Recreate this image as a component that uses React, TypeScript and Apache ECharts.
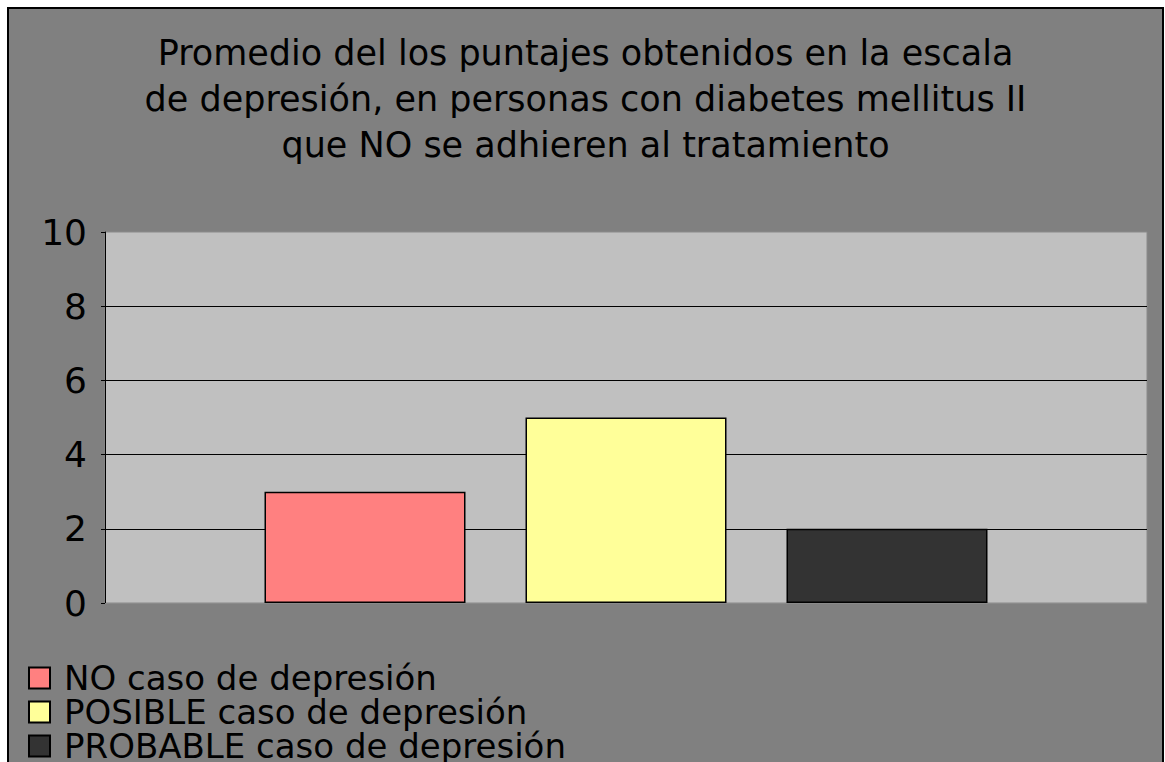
import React, { useEffect, useRef } from "react";
import * as echarts from "echarts";

const titleLines = [
  "Promedio del los puntajes obtenidos en la escala",
  "de depresión, en personas con diabetes mellitus II",
  "que NO se adhieren al tratamiento",
];
const categories = [""];
const seriesNames = [
  "NO caso de depresión",
  "POSIBLE caso de depresión",
  "PROBABLE caso de depresión",
];
const seriesValues = [3, 5, 2];
const seriesColors = ["#ff8080", "#ffff99", "#333333"];

const FONT = "DejaVu Sans";

export default function App() {
  const ref = useRef<HTMLDivElement>(null);
  useEffect(() => {
    if (!ref.current) return;
    const chart = echarts.init(ref.current, null, { renderer: "svg" });
    chart.setOption({
      animation: false,
      backgroundColor: "#808080",
      textStyle: { fontFamily: FONT },
      title: {
        text: titleLines.join("\n"),
        left: "center",
        top: 16,
        textStyle: {
          fontFamily: FONT,
          fontSize: 35,
          fontWeight: "normal",
          color: "#000",
          lineHeight: 46,
        },
      },
      legend: {
        orient: "vertical",
        left: 19,
        top: 652,
        padding: 0,
        itemWidth: 21,
        itemHeight: 21,
        itemGap: 0,
        icon: "rect",
        data: seriesNames,
        textStyle: {
          fontFamily: FONT,
          fontSize: 34,
          color: "#000",
          lineHeight: 33,
          padding: [0, 0, 0, 9],
        },
      },
      grid: {
        left: 96,
        top: 223,
        width: 1042,
        height: 371,
        show: true,
        backgroundColor: "#c0c0c0",
        borderColor: "#8a8a8a",
        borderWidth: 1,
      },
      xAxis: {
        type: "category",
        data: categories,
        axisLine: { show: true, lineStyle: { color: "#8a8a8a", width: 1 } },
        axisTick: { show: false },
        axisLabel: { show: false },
      },
      yAxis: {
        type: "value",
        min: 0,
        max: 10,
        interval: 2,
        axisLine: { show: true, lineStyle: { color: "#000", width: 1 } },
        axisTick: { show: true, length: 4, lineStyle: { color: "#000" } },
        axisLabel: {
          fontFamily: FONT,
          fontSize: 36,
          color: "#000",
          margin: 18,
        },
        splitLine: {
          show: true,
          showMinLine: false,
          showMaxLine: false,
          lineStyle: { color: "#000", width: 1 },
        },
      },
      series: seriesNames.map((name, i) => ({
        name,
        type: "bar",
        data: [seriesValues[i]],
        barWidth: 201,
        barGap: "29.85%",
        itemStyle: {
          color: seriesColors[i],
          borderColor: "#000",
          borderWidth: 1.5,
        },
      })),
    });
    return () => chart.dispose();
  }, []);
  return (
    <div
      style={{
        position: "fixed",
        left: 7,
        top: 7,
        width: 1157,
        height: 800,
        boxSizing: "border-box",
        border: "2px solid #000",
        background: "#808080",
      }}
    >
      <div ref={ref} style={{ width: 1153, height: 796 }} />
    </div>
  );
}
